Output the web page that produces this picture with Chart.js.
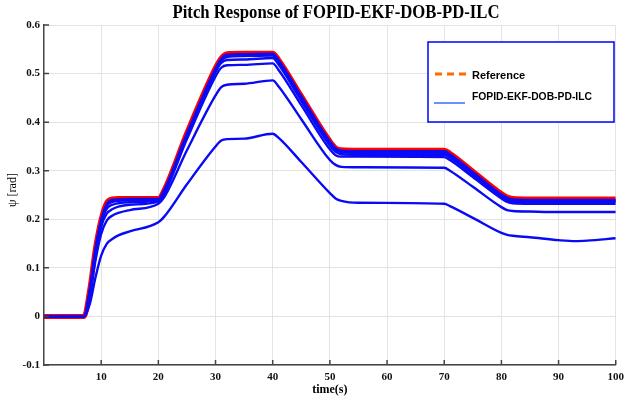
<!DOCTYPE html>
<html>
<head>
<meta charset="utf-8">
<script src="https://cdn.jsdelivr.net/npm/chart.js@4.4.0/dist/chart.umd.min.js"></script>
<style>
  body { margin: 0; background: #fff; }
  canvas { display: block; }
</style>
</head>
<body>
<canvas id="myChart" width="630" height="401"></canvas>
<script>
// time samples (s)
const time = [0, 7, 8, 9, 10, 11, 12, 13, 15, 20, 21, 25, 30, 31, 32, 35, 40, 41, 45, 50, 51, 52, 55, 70, 71, 75, 80, 81, 82, 85, 90, 93, 95, 100];

// reference pitch (rad)
const reference = [0, 0, 0.055, 0.14, 0.2, 0.235, 0.242, 0.243, 0.243, 0.243, 0.26, 0.378, 0.512, 0.532, 0.541, 0.542, 0.542, 0.529, 0.454, 0.361, 0.347, 0.343, 0.342, 0.342, 0.336, 0.299, 0.253, 0.246, 0.243, 0.242, 0.242, 0.242, 0.242, 0.242];

// ILC iterations, worst to best
const iter1 = [0, 0, 0.025, 0.08, 0.125, 0.15, 0.16, 0.167, 0.175, 0.194, 0.205, 0.272, 0.35, 0.362, 0.365, 0.366, 0.376, 0.368, 0.318, 0.254, 0.243, 0.238, 0.234, 0.232, 0.227, 0.203, 0.172, 0.168, 0.166, 0.163, 0.157, 0.155, 0.156, 0.161];
const iter2 = [0, 0, 0.04, 0.115, 0.17, 0.198, 0.208, 0.213, 0.219, 0.232, 0.245, 0.342, 0.455, 0.472, 0.477, 0.479, 0.486, 0.474, 0.406, 0.322, 0.312, 0.308, 0.307, 0.306, 0.3, 0.267, 0.225, 0.219, 0.217, 0.216, 0.215, 0.215, 0.215, 0.215];
const iter3 = [0, 0, 0.047, 0.128, 0.185, 0.212, 0.221, 0.226, 0.23, 0.237, 0.252, 0.365, 0.494, 0.512, 0.517, 0.518, 0.521, 0.508, 0.435, 0.344, 0.332, 0.329, 0.329, 0.328, 0.322, 0.287, 0.243, 0.236, 0.233, 0.232, 0.232, 0.232, 0.232, 0.232];
const iter4 = [0, 0, 0.05, 0.133, 0.192, 0.222, 0.23, 0.233, 0.235, 0.239, 0.255, 0.37, 0.503, 0.522, 0.528, 0.529, 0.532, 0.519, 0.444, 0.352, 0.339, 0.334, 0.333, 0.333, 0.327, 0.291, 0.246, 0.239, 0.236, 0.235, 0.235, 0.235, 0.235, 0.235];
const iter5 = [0, 0, 0.052, 0.136, 0.196, 0.228, 0.236, 0.238, 0.239, 0.241, 0.257, 0.374, 0.507, 0.527, 0.534, 0.536, 0.537, 0.524, 0.449, 0.356, 0.343, 0.338, 0.337, 0.337, 0.331, 0.294, 0.249, 0.242, 0.239, 0.238, 0.238, 0.238, 0.238, 0.238];
const iter6 = [0, 0, 0.054, 0.138, 0.198, 0.232, 0.24, 0.241, 0.242, 0.242, 0.259, 0.376, 0.51, 0.53, 0.539, 0.54, 0.541, 0.528, 0.453, 0.36, 0.346, 0.341, 0.34, 0.34, 0.334, 0.297, 0.251, 0.244, 0.241, 0.24, 0.24, 0.24, 0.24, 0.24];

const yTicks = [-0.1, 0, 0.1, 0.2, 0.3, 0.4, 0.5, 0.6];
const xTicks = [10, 20, 30, 40, 50, 60, 70, 80, 90, 100];

function pts(arr) {
  return time.map((t, i) => ({ x: t, y: arr[i] }));
}

function blue(arr) {
  return {
    data: pts(arr),
    borderColor: "#0a0af5",
    borderWidth: 2.4,
    pointRadius: 0,
    cubicInterpolationMode: "monotone",
    order: 0,
  };
}

const data = {
  datasets: [
    blue(iter1),
    blue(iter2),
    blue(iter3),
    blue(iter4),
    blue(iter5),
    blue(iter6),
    {
      data: pts(reference),
      borderColor: "#ff0000",
      borderWidth: 5,
      pointRadius: 0,
      cubicInterpolationMode: "monotone",
      order: 1,
    },
  ],
};

// title, legend box, axis titles and inward ticks
const extras = {
  id: "extras",
  afterDraw(chart) {
    const ctx = chart.ctx;
    const a = chart.chartArea;
    const xs = chart.scales.x;
    const ys = chart.scales.y;
    ctx.save();

    // inward tick marks
    ctx.strokeStyle = "#444";
    ctx.lineWidth = 1.5;
    ctx.beginPath();
    xTicks.forEach((v) => {
      const px = xs.getPixelForValue(v);
      ctx.moveTo(px, a.bottom);
      ctx.lineTo(px, a.bottom - 5);
    });
    yTicks.forEach((v) => {
      const py = ys.getPixelForValue(v);
      ctx.moveTo(a.left, py);
      ctx.lineTo(a.left + 5, py);
    });
    ctx.stroke();

    // title
    ctx.fillStyle = "#000";
    ctx.font = "bold 19px 'Liberation Serif'";
    ctx.textAlign = "center";
    ctx.textBaseline = "middle";
    const title = "Pitch Response of FOPID-EKF-DOB-PD-ILC";
    const tw = ctx.measureText(title).width;
    ctx.save();
    ctx.translate(336, 13);
    ctx.scale(327 / tw, 1);
    ctx.fillText(title, 0, 0);
    ctx.restore();

    // axis titles
    ctx.font = "bold 12px 'Liberation Serif'";
    ctx.fillText("time(s)", (a.left + a.right) / 2, 390);
    ctx.save();
    ctx.translate(13, 190);
    ctx.rotate(-Math.PI / 2);
    ctx.font = "12px 'Liberation Serif'";
    ctx.fillText("\u03C8 [rad]", 0, 0);
    ctx.restore();

    // legend box
    ctx.fillStyle = "#fff";
    ctx.fillRect(428, 42, 186, 80);
    ctx.strokeStyle = "#0000ff";
    ctx.lineWidth = 1.5;
    ctx.strokeRect(428, 42, 186, 80);

    ctx.strokeStyle = "#ff6a00";
    ctx.lineWidth = 3;
    ctx.setLineDash([7, 5]);
    ctx.beginPath();
    ctx.moveTo(435, 74);
    ctx.lineTo(466, 74);
    ctx.stroke();
    ctx.setLineDash([]);

    ctx.strokeStyle = "#3a6cff";
    ctx.lineWidth = 1.5;
    ctx.beginPath();
    ctx.moveTo(434, 103);
    ctx.lineTo(465, 103);
    ctx.stroke();

    ctx.fillStyle = "#000";
    ctx.font = "bold 11px 'Liberation Sans'";
    ctx.textAlign = "left";
    ctx.fillText("Reference", 472, 76);
    const lab = "FOPID-EKF-DOB-PD-ILC";
    const lw = ctx.measureText(lab).width;
    ctx.save();
    ctx.translate(472, 97);
    ctx.scale(120 / lw, 1);
    ctx.fillText(lab, 0, 0);
    ctx.restore();

    ctx.restore();
  },
};

const config = {
  type: "line",
  data,
  plugins: [extras],
  options: {
    responsive: false,
    animation: false,
    layout: {
      padding: { top: 25, right: 8, left: 0, bottom: 0 },
    },
    plugins: {
      legend: { display: false },
      title: { display: false },
      tooltip: { enabled: false },
    },
    scales: {
      x: {
        type: "linear",
        min: 0,
        max: 100,
        afterFit: (s) => { s.height = 36; },
        afterBuildTicks: (s) => { s.ticks = xTicks.map((v) => ({ value: v })); },
        grid: { color: "#e3e3e3", lineWidth: 1, drawTicks: false },
        border: { color: "#444", width: 1.5 },
        ticks: {
          padding: 6,
          color: "#111",
          font: { family: "Liberation Serif", weight: "bold", size: 11 },
          maxRotation: 0,
        },
      },
      y: {
        min: -0.1,
        max: 0.6,
        afterFit: (s) => { s.width = 44; },
        afterBuildTicks: (s) => { s.ticks = yTicks.map((v) => ({ value: v })); },
        grid: { color: "#e3e3e3", lineWidth: 1, drawTicks: false },
        border: { color: "#444", width: 1.5 },
        ticks: {
          padding: 4,
          color: "#111",
          font: { family: "Liberation Serif", weight: "bold", size: 11 },
          callback: (v) => (Math.abs(v) < 1e-9 ? "0" : v.toFixed(1)),
        },
      },
    },
  },
};

const myChart = new Chart(document.getElementById("myChart"), config);
</script>
</body>
</html>
